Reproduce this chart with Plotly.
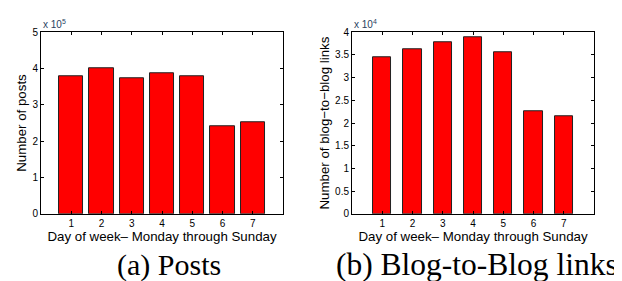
import plotly.graph_objects as go

days = [1, 2, 3, 4, 5, 6, 7]
posts = [380000, 400500, 374000, 388000, 379000, 242000, 253000]
links = [34500, 36300, 37900, 38800, 35700, 22500, 21600]

posts_ticks = [0, 100000, 200000, 300000, 400000, 500000]
posts_ticktext = ["0", "1", "2", "3", "4", "5"]
links_ticks = [0, 5000, 10000, 15000, 20000, 25000, 30000, 35000, 40000]
links_ticktext = ["0", "0.5", "1", "1.5", "2", "2.5", "3", "3.5", "4"]

xtitle = "Day of week\u2013 Monday through Sunday"
ytitle_a = "Number of posts"
ytitle_b = "Number of blog\u2212to\u2212blog links"
caption_a = "(a) Posts"
caption_b = "(b) Blog-to-Blog links"

fig = go.Figure()
fig.add_trace(go.Bar(x=days, y=posts, width=0.8, marker=dict(color="#ff0000", line=dict(color="#222222", width=1)),
                     xaxis="x", yaxis="y", showlegend=False))
fig.add_trace(go.Bar(x=days, y=links, width=0.6, marker=dict(color="#ff0000", line=dict(color="#222222", width=1)),
                     xaxis="x2", yaxis="y2", showlegend=False))

tickfont = dict(family="Liberation Sans, Arial", size=10, color="#000000")
titlefont = dict(family="Liberation Sans, Arial", size=13.3, color="#000000")

common_x = dict(range=[0, 8], tickvals=days, ticks="inside", ticklen=3, tickcolor="#000",
                showline=True, linecolor="#000", linewidth=1, mirror="ticks", showgrid=False,
                zeroline=False, tickfont=tickfont, title=dict(text=xtitle, font=titlefont, standoff=0))
common_y = dict(ticks="inside", ticklen=3, tickcolor="#000", showline=True, linecolor="#000",
                linewidth=1, mirror="ticks", showgrid=False, zeroline=False, tickfont=tickfont)

fig.update_layout(
    width=622, height=281, margin=dict(l=0, r=0, t=0, b=0),
    paper_bgcolor="white", plot_bgcolor="white", bargap=0,
    xaxis=dict(domain=[0.0531, 0.4421], anchor="y", **common_x),
    yaxis=dict(domain=[0.2598, 0.9324], anchor="x", range=[0, 500000], tickvals=posts_ticks,
               ticktext=posts_ticktext, title=dict(text=ytitle_a, font=titlefont, standoff=2), **common_y),
    xaxis2=dict(domain=[0.5531, 0.9421], anchor="y2", **common_x),
    yaxis2=dict(domain=[0.2598, 0.9324], anchor="x2", range=[0, 40000], tickvals=links_ticks,
                ticktext=links_ticktext, title=dict(text=ytitle_b, font=titlefont, standoff=2), **common_y),
)

fig.add_annotation(text="x 10<sup>5</sup>", xref="paper", yref="paper", x=0.0531, y=0.9324,
                   xanchor="left", yanchor="bottom", showarrow=False, font=dict(family="Liberation Sans, Arial", size=10))
fig.add_annotation(text="x 10<sup>4</sup>", xref="paper", yref="paper", x=0.5531, y=0.9324,
                   xanchor="left", yanchor="bottom", showarrow=False, font=dict(family="Liberation Sans, Arial", size=10))
fig.add_annotation(text=caption_a, xref="paper", yref="paper", x=161 / 622, y=0,
                   xanchor="center", yanchor="bottom", showarrow=False,
                   font=dict(family="Liberation Serif, Times New Roman", size=30, color="#000"))
fig.add_annotation(text=caption_b, xref="paper", yref="paper", x=469 / 622, y=0,
                   xanchor="center", yanchor="bottom", showarrow=False,
                   font=dict(family="Liberation Serif, Times New Roman", size=31.5, color="#000"))

fig.write_html("out.html")
